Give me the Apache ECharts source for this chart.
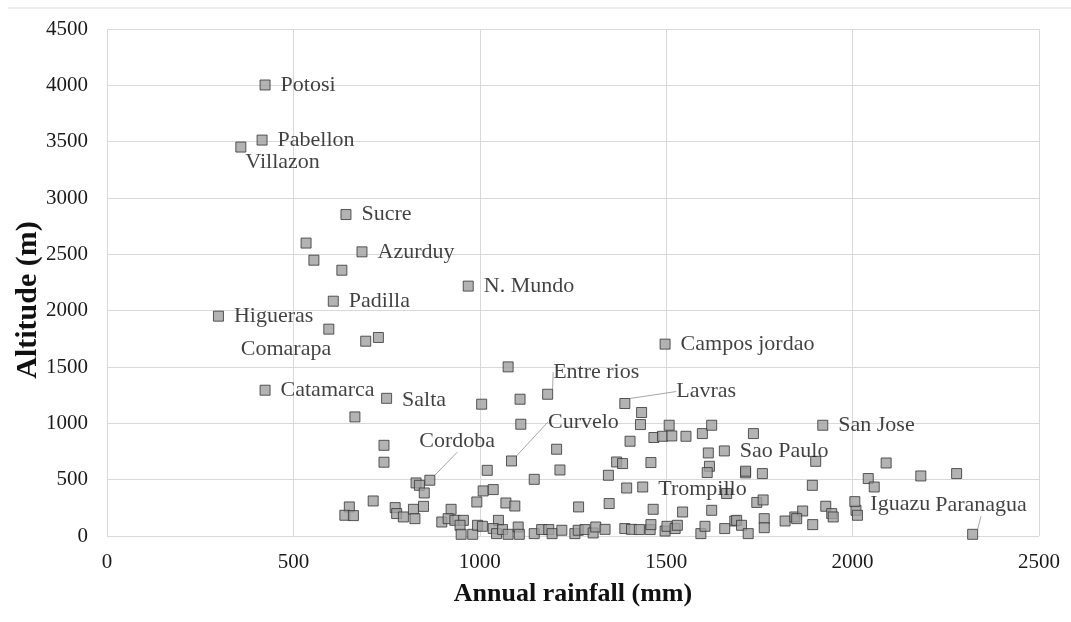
<!DOCTYPE html>
<html>
<head>
<meta charset="utf-8">
<title>Altitude vs annual rainfall</title>
<script src="https://cdn.jsdelivr.net/npm/echarts@6/dist/echarts.min.js"></script>
<style>
  html, body { margin: 0; padding: 0; background: #fff; }
  #chart { width: 1071px; height: 622px; }
</style>
</head>
<body>
<div id="chart"></div>
<script>
// named stations (rainfall mm, altitude m)
var siteNames = ["Potosi", "Pabellon", "Villazon", "Sucre", "Azurduy", "N. Mundo", "Padilla", "Higueras",
  "Comarapa", "Campos jordao", "Entre rios", "Catamarca", "Salta", "Lavras", "Curvelo", "San Jose",
  "Sao Paulo", "Cordoba", "Trompillo", "Iguazu", "Paranagua"];
var siteRain = [424, 416, 359, 641, 684, 969, 607, 299, 694, 1497, 1182, 424, 750, 1389, 1085, 1920,
  1656, 866, 1437, 2006, 2322];
var siteAlt = [4003, 3514, 3452, 2853, 2522, 2218, 2084, 1951, 1729, 1703, 1258, 1294, 1222, 1176, 666, 983,
  755, 495, 435, 305, 15];

// other stations without labels
var otherRain = [534, 555, 630, 595, 728, 1076, 665, 1005, 1108, 1434, 1431, 1508, 1110, 743, 743,
  829, 838, 851, 1020, 1146, 1206, 1215, 1009, 1036, 992, 1070, 1094, 1265, 1347, 1345, 1367, 1383,
  1403, 1459, 1394, 1465, 1544, 1467, 1490, 1515, 1553, 1597, 1622, 1613, 1616, 1610, 1662, 1622,
  1684, 650, 638, 661, 714, 773, 777, 795, 822, 826, 849, 923, 898, 915, 933, 956, 947, 950, 981,
  994, 1007, 1050, 1036, 1045, 1061, 1076, 1103, 1106, 1146, 1166, 1185, 1194, 1220, 1255, 1264,
  1282, 1304, 1311, 1336, 1389, 1407, 1428, 1457, 1459, 1497, 1502, 1524, 1530, 1593, 1604, 1657,
  1743, 1760, 1689, 1702, 1720, 1763, 1763, 1819, 1845, 1866, 1850, 1893, 1928, 1944, 1948, 2009,
  2013, 2090, 1901, 1734, 2042, 2058, 2183, 2279, 1892, 1713, 1713, 1758];
var otherAlt = [2600, 2448, 2359, 1836, 1762, 1501, 1057, 1170, 1214, 1096, 989, 983, 992, 805, 655,
  471, 450, 382, 583, 503, 770, 586, 400, 412, 302, 293, 266, 258, 288, 539, 657, 643,
  841, 652, 426, 237, 213, 874, 885, 888, 885, 909, 983, 737, 619, 563, 377, 228,
  133, 258, 184, 181, 311, 252, 199, 169, 237, 154, 263, 237, 124, 154, 139, 139, 95, 15, 15,
  95, 86, 139, 66, 21, 57, 15, 80, 15, 21, 57, 57, 21, 51, 21, 51,
  57, 27, 80, 59, 66, 59, 57, 57, 101, 44, 86, 66, 95, 21, 86, 66,
  298, 320, 139, 95, 21, 154, 74, 133, 169, 222, 154, 101, 264, 199, 169, 228,
  184, 648, 663, 909, 510, 435, 533, 554, 450, 560, 575, 554];

var xTicks = [0, 500, 1000, 1500, 2000, 2500];
var yTicks = [0, 500, 1000, 1500, 2000, 2500, 3000, 3500, 4000, 4500];

var serif = "'Liberation Serif', 'Times New Roman', serif";

// label nudges (px) for the named points
var labelMove = {
  "Villazon": { dx: -11, dy: 15 },
  "Comarapa": { dx: -19, dy: 8, pos: "left" },
  "Entre rios": { dx: -10, dy: -22, line: true },
  "Lavras": { dx: 36, dy: -12, line: true },
  "Curvelo": { dx: 21, dy: -39, line: true },
  "Cordoba": { dx: -26, dy: -39, line: true },
  "Paranagua": { dx: -53, dy: -29, line: true },
  "Salta": { dx: 0, dy: 2 },
  "Iguazu": { dx: 0, dy: 3 },
  "Trompillo": { dx: 0, dy: 2 }
};

var namedData = siteNames.map(function (n, i) {
  var m = labelMove[n] || {};
  return {
    name: n,
    value: [siteRain[i], siteAlt[i]],
    label: { position: m.pos || "right" },
    labelLine: { show: !!m.line }
  };
});
var otherData = otherRain.map(function (x, i) {
  return [x, otherAlt[i]];
});

var markStyle = {
  color: "#a0a0a0",
  borderColor: "#333",
  borderWidth: 1
};

var chart = echarts.init(document.getElementById("chart"));
chart.setOption({
  animation: false,
  backgroundColor: "#fff",
  grid: { left: 107, right: 32, top: 29, bottom: 86 },
  graphic: [
    {
      type: "line",
      shape: { x1: 8, y1: 8, x2: 1071, y2: 8 },
      style: { stroke: "#d9d9d9", lineWidth: 1 }
    },
    {
      type: "text",
      x: 28,
      y: 300,
      rotation: Math.PI / 2,
      style: {
        text: "Altitude (m)",
        fontFamily: serif,
        fontWeight: "bold",
        fontSize: 30,
        fill: "#111",
        align: "center",
        verticalAlign: "middle"
      }
    }
  ],
  xAxis: {
    type: "value",
    min: 0,
    max: 2500,
    interval: 500,
    name: "Annual rainfall (mm)",
    nameLocation: "middle",
    nameGap: 45,
    nameTextStyle: { fontFamily: serif, fontWeight: "bold", fontSize: 26, color: "#111" },
    axisLine: { show: false },
    axisTick: { show: false },
    axisLabel: {
      margin: 16,
      fontFamily: serif,
      fontSize: 21,
      color: "#1a1a1a",
      formatter: function (v) { return xTicks.indexOf(v) >= 0 ? String(v) : ""; }
    },
    splitLine: { show: true, lineStyle: { color: "#d9d9d9", width: 1 } }
  },
  yAxis: {
    type: "value",
    min: 0,
    max: 4500,
    interval: 500,
    axisLine: { show: false },
    axisTick: { show: false },
    axisLabel: {
      margin: 19,
      fontFamily: serif,
      fontSize: 21,
      color: "#1a1a1a",
      formatter: function (v) { return yTicks.indexOf(v) >= 0 ? String(v) : ""; }
    },
    splitLine: { show: true, lineStyle: { color: "#d9d9d9", width: 1 } }
  },
  series: [
    {
      name: "others",
      type: "scatter",
      symbol: "rect",
      symbolSize: 10,
      itemStyle: markStyle,
      data: otherData
    },
    {
      name: "named",
      type: "scatter",
      symbol: "rect",
      symbolSize: 10,
      itemStyle: markStyle,
      z: 3,
      label: {
        show: true,
        distance: 10,
        formatter: "{b}",
        fontFamily: serif,
        fontSize: 22,
        color: "#111"
      },
      labelLine: {
        show: false,
        smooth: false,
        lineStyle: { color: "#a6a6a6", width: 1 }
      },
      labelLayout: function (p) {
        var m = labelMove[siteNames[p.dataIndex]] || {};
        return { dx: m.dx || 0, dy: m.dy || 0 };
      },
      data: namedData
    }
  ]
});
</script>
</body>
</html>
